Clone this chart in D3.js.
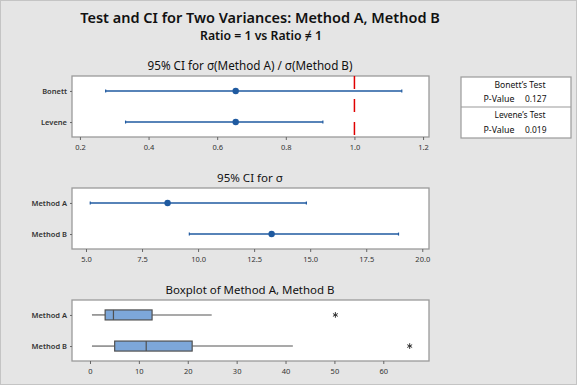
<!DOCTYPE html>
<html>
<head>
<meta charset="utf-8">
<script src="https://cdn.jsdelivr.net/npm/d3@7"></script>
<style>
  html, body { margin: 0; padding: 0; background: #e5e5e5; }
  svg { display: block; }
</style>
</head>
<body>
<svg id="chart" width="577" height="385"></svg>
<script>
// Two-variance test summary: ratio CI, per-method sigma CI, boxplots, p-value table.

const ratioTests = ["Bonett", "Levene"];
const ratioEst = [0.654, 0.654];
const ratioLo = [0.275, 0.333];
const ratioHi = [1.138, 0.908];
const ratioTicks = [0.2, 0.4, 0.6, 0.8, 1.0, 1.2];

const methods = ["Method A", "Method B"];
const sigmaEst = [8.64, 13.28];
const sigmaLo = [5.19, 9.61];
const sigmaHi = [14.83, 18.94];
const sigmaTicks = [5.0, 7.5, 10.0, 12.5, 15.0, 17.5, 20.0];

// whisker low, Q1, median, Q3, whisker high, outlier
const boxA = [0.4, 3.1, 4.8, 12.7, 24.9, 50.2];
const boxB = [0.4, 5.05, 11.5, 20.9, 41.5, 65.4];
const boxTicks = [0, 10, 20, 30, 40, 50, 60];

const pTests = ["Bonett\u2019s Test", "Levene\u2019s Test"];
const pValues = ["0.127", "0.019"];

const W = 577, H = 385;
const LEFT = 72, RIGHT = 429, PH = 61;
const FONT = "'Noto Sans', 'Open Sans', sans-serif";
const BLUE = "#1f5aa0";

const svg = d3.select("#chart");
svg.append("rect").attr("x", 0.5).attr("y", 0.5).attr("width", W - 1).attr("height", H - 1)
  .attr("fill", "#e5e5e5").attr("stroke", "#c4c4c4");

// shrink/grow a text's font size so it spans the width seen in the picture
function fit(sel, size, width) {
  sel.style("font-size", size + "px");
  const w = sel.node().getComputedTextLength();
  sel.style("font-size", (size * width / w).toFixed(2) + "px");
  return sel;
}

fit(svg.append("text").attr("x", 260).attr("y", 23).attr("text-anchor", "middle")
  .style("font-family", FONT).style("font-weight", 600).style("fill", "#111")
  .text("Test and CI for Two Variances: Method A, Method B"), 16, 360);
fit(svg.append("text").attr("x", 261).attr("y", 40).attr("text-anchor", "middle")
  .style("font-family", FONT).style("font-weight", 600).style("fill", "#111")
  .text("Ratio = 1 vs Ratio \u2260 1"), 12, 122);

function panel(top, title, titleW, domain, ticks, fmt, cats) {
  const g = svg.append("g");
  fit(g.append("text").attr("x", 250).attr("y", top - 6).attr("text-anchor", "middle")
    .style("font-family", FONT).style("fill", "#111").text(title), 12.5, titleW);
  g.append("rect").attr("x", LEFT).attr("y", top).attr("width", RIGHT - LEFT).attr("height", PH)
    .attr("fill", "#fff").attr("stroke", "#9a9a9a").attr("stroke-width", 1.3);
  const x = d3.scaleLinear().domain(domain).range([LEFT, RIGHT]);
  const y = d3.scalePoint().domain(cats).range([top, top + PH]).padding(0.48);
  const ax = g.append("g").attr("transform", `translate(0,${top + PH})`)
    .call(d3.axisBottom(x).tickValues(ticks).tickFormat(fmt).tickSize(3).tickSizeOuter(0));
  ax.select(".domain").remove();
  ax.selectAll("line").attr("stroke", "#666");
  ax.selectAll("text").attr("dy", "0.9em").style("font", `7.5px ${FONT}`).style("fill", "#333");
  const ay = g.append("g").attr("transform", `translate(${LEFT},0)`)
    .call(d3.axisLeft(y).tickSize(2).tickPadding(3));
  ay.select(".domain").remove();
  ay.selectAll("line").attr("stroke", "#666");
  ay.selectAll("text").style("font", `600 7.5px ${FONT}`).style("fill", "#333");
  return { g, x, y };
}

function intervals(p, cats, lo, est, hi) {
  cats.forEach((c, i) => {
    const yy = p.y(c);
    p.g.append("line").attr("x1", p.x(lo[i])).attr("x2", p.x(hi[i])).attr("y1", yy).attr("y2", yy)
      .attr("stroke", BLUE).attr("stroke-width", 1.4);
    [lo[i], hi[i]].forEach((v) => p.g.append("line").attr("x1", p.x(v)).attr("x2", p.x(v))
      .attr("y1", yy - 1.5).attr("y2", yy + 1.5).attr("stroke", BLUE).attr("stroke-width", 1.2));
    p.g.append("circle").attr("cx", p.x(est[i])).attr("cy", yy).attr("r", 3.2).attr("fill", BLUE);
  });
}

// Panel 1: ratio of sigmas
const p1 = panel(76, "95% CI for \u03c3(Method A) / \u03c3(Method B)", 205, [0.1769, 1.2173], ratioTicks,
  d3.format(".1f"), ratioTests);
p1.g.append("line").attr("x1", p1.x(1)).attr("x2", p1.x(1)).attr("y1", 76).attr("y2", 76 + PH)
  .attr("stroke", "#e00000").attr("stroke-width", 1.5).attr("stroke-dasharray", "13,10");
intervals(p1, ratioTests, ratioLo, ratioEst, ratioHi);

// Panel 2: sigma per method
const p2 = panel(188, "95% CI for \u03c3", 66, [4.376, 20.3], sigmaTicks, d3.format(".1f"), methods);
intervals(p2, methods, sigmaLo, sigmaEst, sigmaHi);

// Panel 3: boxplots
const p3 = panel(300, "Boxplot of Method A, Method B", 169, [-3.68, 69.35], boxTicks, d3.format("d"), methods);
const star = d3.symbol().type(d3.symbolAsterisk).size(22);
[boxA, boxB].forEach((b, i) => {
  const yy = p3.y(methods[i]);
  const line = (x1, x2) => p3.g.append("line").attr("x1", p3.x(x1)).attr("x2", p3.x(x2))
    .attr("y1", yy).attr("y2", yy).attr("stroke", "#555").attr("stroke-width", 1.1);
  line(b[0], b[1]);
  line(b[3], b[4]);
  p3.g.append("rect").attr("x", p3.x(b[1])).attr("y", yy - 5).attr("width", p3.x(b[3]) - p3.x(b[1]))
    .attr("height", 10).attr("fill", "#7da7d9").attr("stroke", "#505050").attr("stroke-width", 1.2);
  p3.g.append("line").attr("x1", p3.x(b[2])).attr("x2", p3.x(b[2])).attr("y1", yy - 5).attr("y2", yy + 5)
    .attr("stroke", "#505050").attr("stroke-width", 1.2);
  p3.g.append("path").attr("d", star).attr("transform", `translate(${p3.x(b[5])},${yy})`)
    .attr("fill", "none").attr("stroke", "#333").attr("stroke-width", 1);
});

// p-value table
const tx = 461, tw = 110, ty = 77, th = 61;
const tg = svg.append("g");
tg.append("rect").attr("x", tx).attr("y", ty).attr("width", tw).attr("height", th)
  .attr("fill", "#fff").attr("stroke", "#9a9a9a").attr("stroke-width", 1.2);
tg.append("line").attr("x1", tx).attr("x2", tx + tw).attr("y1", ty + 30).attr("y2", ty + 30)
  .attr("stroke", "#9a9a9a").attr("stroke-width", 1.2);
pTests.forEach((t, i) => {
  const base = ty + i * 30.5;
  fit(tg.append("text").attr("x", tx + tw / 2 + 4).attr("y", base + 10.5).attr("text-anchor", "middle")
    .style("font-family", FONT).style("fill", "#111").text(t), 8.5, 51);
  fit(tg.append("text").attr("x", tx + 22.5).attr("y", base + 25)
    .style("font-family", FONT).style("fill", "#111").text("P-Value"), 8.5, 31);
  fit(tg.append("text").attr("x", tx + 64).attr("y", base + 25)
    .style("font-family", FONT).style("fill", "#111").text(pValues[i]), 8.5, 21.5);
});
</script>
</body>
</html>
